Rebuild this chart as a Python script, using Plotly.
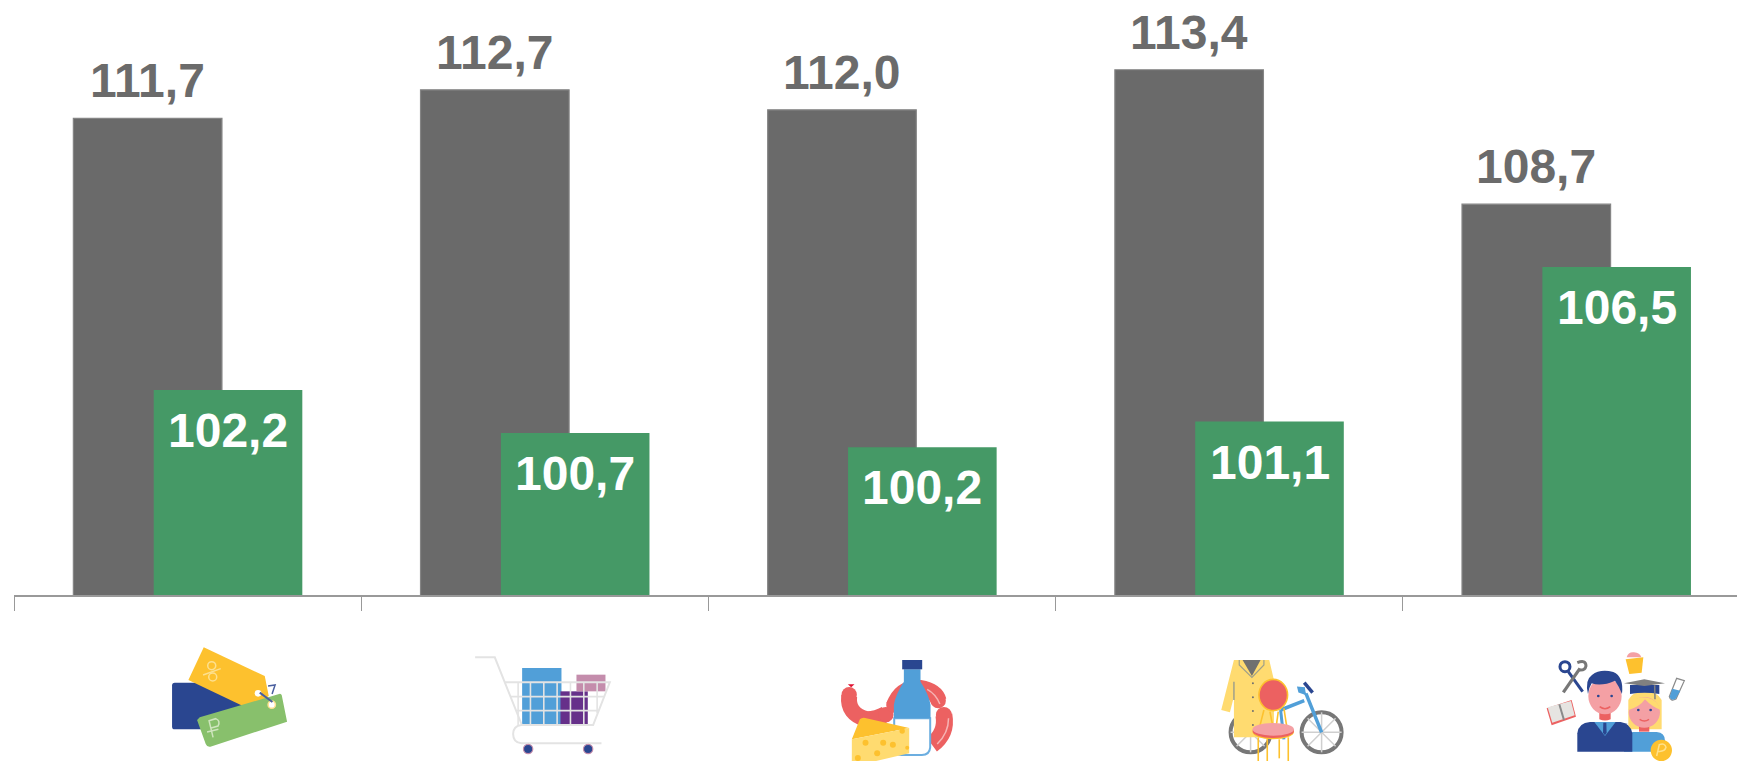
import plotly.graph_objects as go

categories = ["Все товары и услуги", "Товары", "Продовольственные", "Непродовольственные", "Услуги"]
series_grey = [111.7, 112.7, 112.0, 113.4, 108.7]
series_green = [102.2, 100.7, 100.2, 101.1, 106.5]
labels_grey = ["111,7", "112,7", "112,0", "113,4", "108,7"]
labels_green = ["102,2", "100,7", "100,2", "101,1", "106,5"]

W, H = 1737, 761
L, B = 14.3, 166
PH = H - B
PW = W - L
GREY = "#6a6a6a"
GREEN = "#459966"
NAVY = "#2A4690"
BLUE = "#519FD8"
YEL = "#FDC12E"
LYEL = "#FFDB70"
RED = "#EC6161"
PINK = "#F4A0A4"
LGR = "#E3E3E3"
FONT = "Liberation Sans"

shapes = []


class Icon:
    def __init__(self, ox, oy, s=3.0):
        self.ox, self.oy, self.s = ox, oy, s

    def px(self, x):
        return (self.ox + x / self.s - L) / PW

    def py(self, y):
        return 1 - (self.oy + y / self.s) / PH

    def path(self, d, fill=None, line=None, w=0):
        out, i = [], 0
        for t in d.split():
            if t.isalpha():
                out.append(t)
            else:
                v = float(t)
                out.append(f"{self.px(v):.5f}" if i % 2 == 0 else f"{self.py(v):.5f}")
                i += 1
        shapes.append(dict(type="path", xref="paper", yref="paper", path=" ".join(out),
                           fillcolor=fill or "rgba(0,0,0,0)",
                           line=dict(color=line or "rgba(0,0,0,0)", width=w)))

    def ell(self, cx, cy, rx, ry=None, fill=None, line=None, w=0):
        ry = rx if ry is None else ry
        shapes.append(dict(type="circle", xref="paper", yref="paper",
                           x0=self.px(cx - rx), x1=self.px(cx + rx),
                           y0=self.py(cy + ry), y1=self.py(cy - ry),
                           fillcolor=fill or "rgba(0,0,0,0)",
                           line=dict(color=line or "rgba(0,0,0,0)", width=w)))

    def seg(self, x0, y0, x1, y1, color, w):
        self.path(f"M {x0} {y0} L {x1} {y1}", line=color, w=w)


# --- tags
a = Icon(120, 620)
a.path("M 165 188 L 360 188 L 380 328 L 165 328 Q 157 328 157 320 L 157 196 Q 157 188 165 188 Z", fill=NAVY)
a.path("M 252 82 L 435 168 L 447 228 L 390 268 L 206 180 Z", fill=YEL)
a.ell(276, 137, 12, fill=None, line="#FDE08F", w=1.5)
a.ell(279, 171, 12, fill=None, line="#FDE08F", w=1.5)
a.seg(250, 165, 303, 146, "#FDE08F", 1.5)
a.path("M 240 292 L 478 222 Q 484 220 486 226 L 502 305 L 272 380 Q 262 382 258 372 L 232 300 Z", fill="#88C06C")
a.ell(415, 220, 10, fill="#FFFFFF")
a.ell(456, 254, 11, fill="#FFFFFF", line="#FDE08F", w=1.5)
a.seg(420, 218, 458, 246, "#4A5F9F", 2)
a.path("M 445 198 L 466 195 L 457 222", line="#4A5F9F", w=1.5)
a.path("M 280 352 L 268 302 L 288 296 Q 303 302 295 318 L 274 324 M 262 336 L 296 328", line="#CFE5BE", w=1.5)

# --- cart
c = Icon(120, 620)
c.path("M 1207 144 L 1325 144 L 1325 312 L 1207 312 Z", fill=BLUE)
c.path("M 1322 214 L 1404 214 L 1404 312 L 1322 312 Z", fill="#66308A")
c.path("M 1370 164 L 1457 164 L 1457 214 L 1370 214 Z", fill="#C48DAC")
c.path("M 1066 112 L 1125 112 L 1205 312", line=LGR, w=2)
c.path("M 1155 187 L 1470 187 L 1420 315 L 1205 315 Q 1180 318 1180 342 Q 1180 368 1205 370 L 1445 370", line=LGR, w=2)
for yy, xa, xb in ((230, 1172, 1453), (272, 1189, 1437)):
    c.seg(xa, yy, xb, yy, LGR, 1.6)
for xx, ya in ((1195, 187), (1232, 187), (1272, 187), (1312, 187), (1352, 187), (1392, 187), (1432, 187)):
    c.seg(xx, ya, xx, 315 if xx != 1432 else 280, LGR, 1.6)
for xx in (1225, 1405):
    c.ell(xx, 387, 14, fill=NAVY, line="#C48DAC", w=1.2)

# --- food
f = Icon(830, 650)
f.path("M 58 138 Q 52 192 110 208 Q 140 208 168 192", line=RED, w=16)
f.ell(58, 134, 23, fill=RED)
f.ell(168, 194, 23, fill=RED)
f.path("M 64 112 L 54 103 L 74 103 Z", fill="#E01030")
f.path("M 192 168 Q 212 112 270 114 Q 318 122 326 152", line=RED, w=16)
f.ell(192, 165, 23, fill=RED)
f.ell(325, 152, 23, fill=RED)
f.path("M 342 195 Q 352 250 306 284", line=RED, w=17)
f.ell(342, 195, 24, fill=RED)
f.path("M 292 118 Q 318 132 330 162", line="#F6B4B4", w=1.5)
f.path("M 356 205 Q 356 250 322 282", line="#F6B4B4", w=1.5)
f.path("M 193 205 L 301 205 L 301 292 Q 299 315 276 315 L 215 315 Q 193 315 193 292 Z", fill="#FFFFFF", line="#6CAEE0", w=2)
f.path("M 222 58 L 272 58 L 272 95 Q 298 135 302 165 L 302 205 L 192 205 L 192 165 Q 196 135 222 95 Z", fill=BLUE)
f.path("M 217 30 L 277 30 L 277 58 L 217 58 Z", fill=NAVY)
f.path("M 66 268 L 90 208 Q 96 202 106 204 L 238 234 Z", fill=YEL)
f.path("M 66 268 L 238 234 L 238 310 L 130 335 L 66 335 Z", fill=LYEL)
for hx, hy, hr in ((107, 278, 9), (160, 278, 9), (189, 284, 9), (142, 310, 9), (84, 324, 9), (232, 293, 6), (217, 243, 8)):
    f.ell(hx, hy, hr, fill=YEL)

# --- coat, chair, bicycle
b = Icon(1210, 650)
b.ell(122, 247, 60, line="#777777", w=4)
b.ell(335, 247, 60, line="#777777", w=4)
for cx in (122, 335):
    b.seg(cx, 187, cx, 307, "#CFCFCF", 1.5)
    b.seg(cx - 60, 247, cx + 60, 247, "#CFCFCF", 1.5)
    b.seg(cx - 42, 205, cx + 42, 289, "#CFCFCF", 1.5)
    b.seg(cx + 42, 205, cx - 42, 289, "#CFCFCF", 1.5)
b.seg(335, 247, 288, 130, BLUE, 3.5)
b.path("M 288 132 L 268 125 L 265 113 L 285 115", fill=BLUE, line=BLUE, w=2)
b.seg(283, 152, 212, 180, BLUE, 3.5)
b.seg(212, 180, 222, 268, BLUE, 3)
b.seg(283, 98, 308, 128, NAVY, 3.5)
b.path("M 72 30 L 178 30 L 192 90 L 192 262 L 72 262 L 72 140 L 60 187 L 34 180 Z", fill=LYEL)
b.path("M 98 30 L 152 30 L 126 78 Z", fill="#707070")
b.path("M 88 30 L 88 45 L 126 82 L 162 45 L 162 30", line="#A0A08A", w=1.2)
b.seg(72, 95, 72, 150, "#A0A08A", 1.5)
for by in (100, 142, 183, 225):
    b.ell(129, by, 3, fill="#707070")
for x0, y0, x1, y1 in ((162, 180, 148, 235), (180, 185, 190, 235), (205, 185, 198, 235), (222, 175, 232, 240),
                       (145, 262, 145, 333), (172, 265, 172, 333), (208, 268, 208, 325), (235, 262, 235, 333)):
    b.seg(x0, y0, x1, y1, YEL, 1.6)
b.ell(190, 135, 43, 47, fill=RED, line=YEL, w=1.6)
b.ell(190, 246, 62, 22, fill=YEL)
b.ell(190, 243, 62, 21, fill=RED)
b.ell(190, 238, 62, 19, fill=PINK)

# --- people and tools
p = Icon(1500, 620)
p.path("M 140 265 L 215 240 L 228 290 L 155 316 Z", fill=RED)
p.path("M 143 262 L 213 243 L 224 286 L 157 308 Z", fill="#E6E4E1")
p.seg(178, 253, 192, 300, "#8A8A8A", 2)
p.ell(195, 140, 15, line=NAVY, w=3)
p.seg(205, 155, 248, 215, NAVY, 3)
p.seg(190, 217, 240, 145, "#777777", 3.2)
p.path("M 232 128 Q 258 118 258 138 Q 255 152 238 150", line="#777777", w=3)
p.path("M 380 112 Q 385 95 402 97 Q 420 98 424 112 Z", fill=PINK)
p.path("M 377 118 L 430 112 L 425 158 L 388 162 Z", fill=YEL)
p.path("M 530 175 L 508 230 Q 512 246 528 237 L 553 182 Z", fill="#FFFFFF", line="#8A8A8A", w=1.2)
p.path("M 517 206 L 541 212 L 527 236 Q 513 244 509 230 Z", fill=BLUE)
p.path("M 385 328 L 385 240 Q 395 215 433 215 Q 475 215 485 240 L 485 328 Z", fill=LYEL)
p.path("M 372 395 L 372 362 Q 374 336 400 336 L 470 336 Q 495 338 495 362 L 495 395 Z", fill=BLUE)
p.path("M 417 315 L 448 315 L 448 335 L 417 335 Z", fill=RED)
p.ell(433, 277, 47, 46, fill=PINK)
p.path("M 386 270 Q 390 235 425 232 Q 470 232 482 270 Q 455 260 435 238 Q 420 260 386 270 Z", fill=LYEL)
p.path("M 390 195 L 478 195 L 478 222 Q 433 215 390 222 Z", fill=NAVY)
p.path("M 372 190 L 433 178 L 495 190 L 433 198 Z", fill="#808080")
p.seg(464, 196, 465, 238, "#808080", 1.5)
p.ell(415, 270, 4, fill=NAVY)
p.ell(452, 270, 4, fill=NAVY)
p.path("M 419 298 Q 433 308 447 298", line=RED, w=1.5)
p.path("M 232 395 L 232 340 Q 236 308 270 306 L 362 306 Q 392 310 397 340 L 397 395 Z", fill=NAVY)
p.path("M 283 306 L 347 306 L 315 348 Z", fill=BLUE)
p.path("M 310 308 L 319 308 L 320 338 L 315 346 L 309 338 Z", fill=NAVY)
p.path("M 298 278 L 332 278 L 332 298 Q 315 305 298 298 Z", fill=RED)
p.ell(315, 228, 50, 55, fill=PINK)
p.path("M 264 222 Q 254 180 276 165 Q 300 146 340 156 Q 372 170 366 222 Q 358 200 345 182 Q 305 200 275 190 Q 266 205 264 222 Z", fill=NAVY)
p.ell(295, 228, 4, fill=NAVY)
p.ell(335, 228, 4, fill=NAVY)
p.path("M 299 260 Q 315 272 331 260", line=RED, w=1.5)
p.ell(484, 391, 32, fill=YEL)
p.path("M 470 408 L 478 374 Q 495 368 498 382 Q 494 396 474 394", line="#FFE08A", w=1.5)

fig = go.Figure()
fig.add_bar(x=categories, y=series_grey, name="Ряд 1", width=0.428, offset=-0.329,
            marker=dict(color=GREY, line=dict(color="#858585", width=1.2)))
fig.add_bar(x=categories, y=series_green, name="Ряд 2", width=0.428, offset=-0.0975,
            marker=dict(color=GREEN, line=dict(width=0)))

annotations = []
for i, (v, t) in enumerate(zip(series_grey, labels_grey)):
    annotations.append(dict(x=i - 0.329 + 0.214, y=v, xref="x", yref="y", text=t, showarrow=False,
                            yanchor="bottom", yshift=9,
                            font=dict(family=FONT, size=48, color="#6b6b6b", weight=700)))
for i, (v, t) in enumerate(zip(series_green, labels_green)):
    annotations.append(dict(x=i - 0.0975 + 0.214, y=v, xref="x", yref="y", text=t, showarrow=False,
                            yanchor="top", yshift=-12,
                            font=dict(family=FONT, size=48, color="#FFFFFF", weight=700)))

fig.update_layout(
    width=W, height=H, margin=dict(l=L, r=0, t=0, b=B, pad=0),
    paper_bgcolor="#FFFFFF", plot_bgcolor="#FFFFFF",
    showlegend=False, barmode="overlay",
    annotations=annotations, shapes=shapes,
    xaxis=dict(type="category", categoryorder="array", categoryarray=categories,
               range=[-0.5, -0.5 + PW / 347.1], tickson="boundaries", ticks="outside",
               ticklen=14, tickwidth=1.2, tickcolor="#999999", showticklabels=False,
               showline=True, linecolor="#999999", linewidth=1.5, showgrid=False, zeroline=False),
    yaxis=dict(range=[95 + 1 / 28.6, 95 + 596 / 28.6], visible=False, showgrid=False, zeroline=False),
)
fig.write_html("out.html", config=dict(displayModeBar=False),
               post_script="document.body.style.margin='0';document.body.style.overflow='hidden';")
